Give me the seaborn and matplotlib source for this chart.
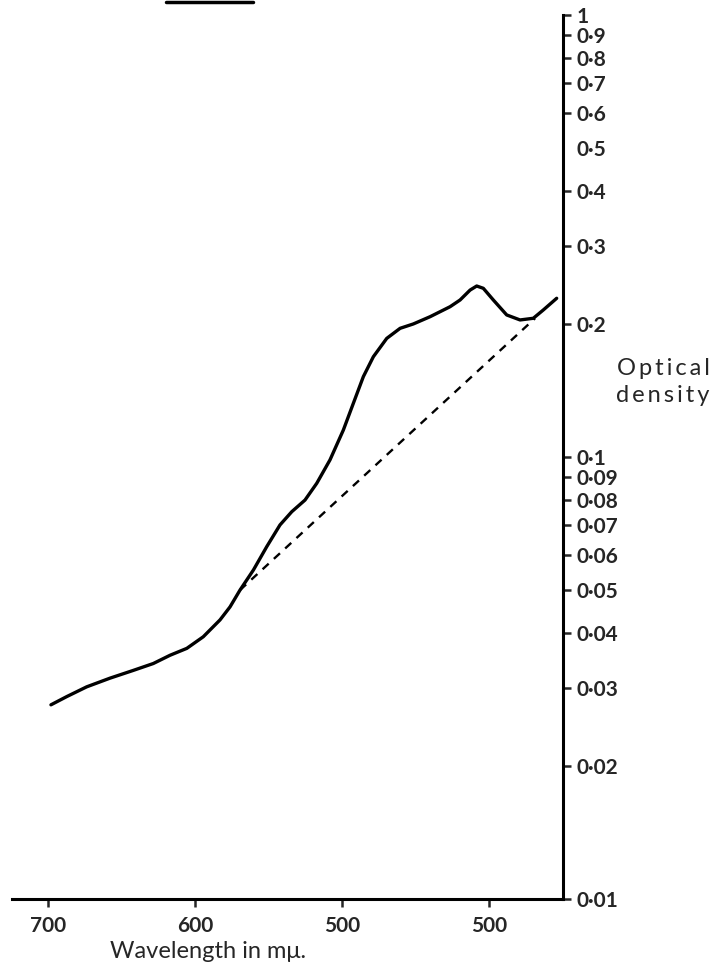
import matplotlib
matplotlib.use("Agg")
import matplotlib.pyplot as plt
from matplotlib.lines import Line2D
from matplotlib.ticker import NullLocator
import seaborn as sns
import pandas as pd

# Absorption spectrum (wavelength in mµ, optical density on a log scale)
wavelength = [698.0, 687.3, 673.7, 657.8, 642.0, 628.4, 617.0, 605.6, 594.4,
              583.0, 576.2, 569.4, 560.3, 551.2, 542.2, 534.2, 525.2, 517.2,
              508.2, 499.1, 492.3, 485.5, 478.7, 469.6, 460.5, 451.5, 440.1,
              426.5, 419.7, 412.9, 408.4, 403.9, 397.1, 388.0, 378.9, 369.9,
              363.1, 354.0]
density = [0.0275, 0.0287, 0.0302, 0.0316, 0.0329, 0.0341, 0.0356, 0.0369,
           0.0392, 0.0428, 0.0458, 0.0500, 0.0555, 0.0627, 0.0702, 0.0752,
           0.0799, 0.0872, 0.0985, 0.1151, 0.1323, 0.1520, 0.1686, 0.1855,
           0.1955, 0.2000, 0.2077, 0.2188, 0.2266, 0.2386, 0.2437, 0.2408,
           0.2266, 0.2096, 0.2042, 0.2060, 0.2151, 0.2286]

# Background base line
base_wavelength = [569.4, 368.7]
base_density = [0.0500, 0.2060]

x_ticks = [700, 600, 500, 400]
x_tick_labels = ["700", "600", "500", "500"]
y_ticks = [0.01, 0.02, 0.03, 0.04, 0.05, 0.06, 0.07, 0.08, 0.09, 0.1,
           0.2, 0.3, 0.4, 0.5, 0.6, 0.7, 0.8, 0.9, 1.0]
y_tick_labels = ["0·01", "0·02", "0·03", "0·04", "0·05", "0·06", "0·07",
                 "0·08", "0·09", "0·1", "0·2", "0·3", "0·4", "0·5", "0·6",
                 "0·7", "0·8", "0·9", "1"]

sns.set_theme(style="ticks")
plt.rcParams["font.family"] = ["Lato", "DejaVu Sans"]

fig = plt.figure(figsize=(7.17, 9.74), dpi=100)
ax = fig.add_axes([12 / 717, 1 - 899 / 974, (563 - 12) / 717, (899 - 15) / 974])

curve = pd.DataFrame({"wavelength": wavelength, "density": density})
base = pd.DataFrame({"wavelength": base_wavelength, "density": base_density})

sns.lineplot(data=curve, x="wavelength", y="density", ax=ax, color="black",
             linewidth=2.4, sort=False, estimator=None,
             solid_joinstyle="round", solid_capstyle="round")
sns.lineplot(data=base, x="wavelength", y="density", ax=ax, color="black",
             linewidth=1.7, sort=False, estimator=None,
             linestyle=(0, (3.5, 3)))

ax.set_yscale("log")
ax.set_xlim(724.5, 349.7)
ax.set_ylim(0.01, 1.0)

ax.set_xticks(x_ticks)
ax.set_xticklabels(x_tick_labels, fontsize=15, fontweight="bold")
ax.set_yticks(y_ticks)
ax.set_yticklabels(y_tick_labels, fontsize=15, fontweight="bold")
ax.yaxis.set_minor_locator(NullLocator())

ax.yaxis.tick_right()
ax.tick_params(axis="y", which="major", direction="out", length=6, width=1.8,
               pad=4, right=True, left=False)
ax.tick_params(axis="x", which="major", direction="out", length=6, width=1.8,
               pad=6)
# no tick stroke beside the 0·5 label
ax.yaxis.get_major_ticks()[y_ticks.index(0.5)].tick2line.set_visible(False)

for side in ("left", "top"):
    ax.spines[side].set_visible(False)
for side in ("right", "bottom"):
    ax.spines[side].set_linewidth(2.2)
    ax.spines[side].set_color("black")

ax.set_xlabel("")
ax.set_ylabel("")
ax.grid(False)


def spaced(text, gap="\u2009"):
    return gap.join(text)


fig.text(208 / 717, 1 - 952 / 974, "Wavelength in mμ.",
         ha="center", va="center", fontsize=17)
fig.text(663 / 717, 1 - 382 / 974,
         spaced("Optical") + "\n" + spaced("density"),
         ha="center", va="center", fontsize=17, linespacing=1.3)

# rule remaining from the heading above the graph
fig.add_artist(Line2D([166 / 717, 253 / 717], [1 - 1.5 / 974, 1 - 1.5 / 974],
                      color="black", linewidth=2.5))

fig.savefig("out.png", dpi=100, facecolor="white")
